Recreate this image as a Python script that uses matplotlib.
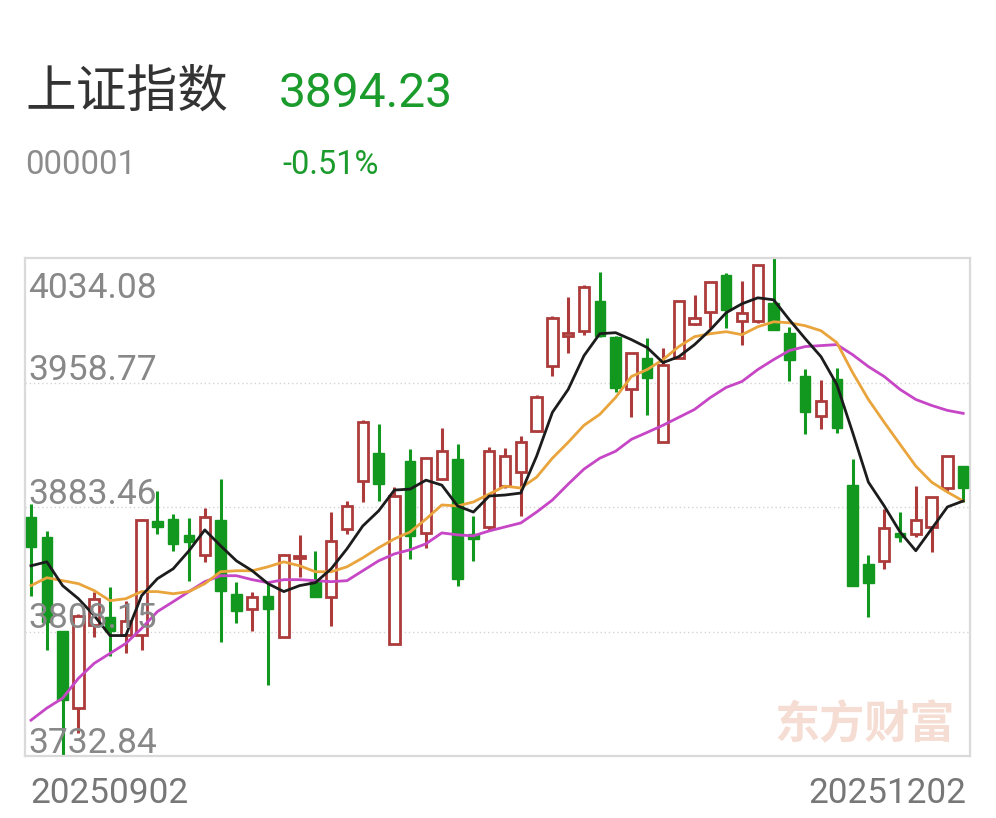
import matplotlib.pyplot as plt
from matplotlib.patches import Rectangle

plt.rcParams['font.family'] = ['Roboto', 'Noto Sans CJK SC', 'DejaVu Sans']

# header
index_name = "上证指数"
index_code = "000001"
last_price = "3894.23"
pct_change = "-0.51%"
watermark = "东方财富"

date_labels = ["20250902", "20251202"]
y_ticks = [4034.08, 3958.77, 3883.46, 3808.15, 3732.84]

# daily candles, 2025-09-02 .. 2025-12-02
opens = [3877.4, 3865.4, 3808.2, 3761.8, 3811.8, 3817.2, 3805.8, 3805.8, 3875.0, 3876.2,
         3866.6, 3854.5, 3875.6, 3831.0, 3822.0, 3829.8, 3805.1, 3852.7, 3838.9, 3829.2,
         3870.2, 3899.1, 3916.0, 3800.3, 3911.2, 3867.8, 3900.3, 3912.4, 3867.0, 3871.4,
         3896.1, 3904.5, 3929.3, 3969.0, 3987.1, 3990.1, 4008.2, 3986.5, 3954.6, 3973.8,
         3922.6, 3973.8, 3994.3, 4001.5, 4023.8, 3996.1, 3996.1, 4007.0, 3988.9, 3962.4,
         3938.3, 3960.6, 3896.7, 3849.1, 3850.9, 3867.8, 3867.2, 3871.4, 3894.9, 3908.1]
highs = [3885.3, 3869.0, 3808.2, 3818.5, 3832.2, 3835.3, 3826.8, 3876.0, 3893.1, 3879.2,
         3876.8, 3882.9, 3900.3, 3838.3, 3832.2, 3838.3, 3855.1, 3866.6, 3856.9, 3880.4,
         3887.1, 3935.9, 3933.5, 3895.5, 3918.4, 3913.0, 3931.1, 3921.4, 3878.0, 3919.6,
         3919.0, 3926.2, 3951.0, 3999.1, 4010.6, 4017.8, 4025.6, 3987.1, 3976.8, 3985.9,
         3979.9, 4008.2, 4011.8, 4019.6, 4025.0, 4020.2, 4029.9, 4034.7, 3992.5, 3967.2,
         3960.0, 3967.8, 3912.4, 3854.5, 3882.3, 3880.4, 3896.1, 3889.4, 3914.2, 3908.1]
lows = [3829.8, 3796.7, 3733.1, 3746.7, 3805.1, 3793.1, 3794.9, 3796.7, 3867.2, 3856.9,
        3838.9, 3850.3, 3802.1, 3813.0, 3808.2, 3775.6, 3805.1, 3841.3, 3829.2, 3811.2,
        3867.2, 3886.5, 3887.1, 3800.3, 3852.1, 3858.8, 3899.7, 3835.9, 3850.9, 3869.0,
        3894.9, 3878.0, 3928.7, 3963.0, 3976.8, 3987.7, 3986.5, 3952.8, 3937.7, 3938.9,
        3922.6, 3973.8, 3993.7, 3991.9, 3991.9, 3981.7, 3994.9, 3990.7, 3959.4, 3927.4,
        3930.5, 3928.0, 3835.9, 3817.2, 3846.1, 3862.4, 3865.4, 3856.3, 3892.5, 3886.5]
closes = [3859.4, 3813.6, 3766.6, 3817.8, 3828.0, 3808.2, 3814.2, 3875.6, 3871.4, 3861.2,
          3862.4, 3877.4, 3832.9, 3820.8, 3829.2, 3822.0, 3854.5, 3853.9, 3829.2, 3863.0,
          3884.0, 3934.7, 3897.3, 3890.1, 3866.0, 3913.0, 3917.2, 3840.1, 3863.9, 3917.2,
          3914.2, 3922.6, 3950.3, 3997.9, 3988.9, 4016.6, 3987.1, 3955.2, 3976.8, 3961.2,
          3969.6, 4008.2, 3997.9, 4019.6, 4002.8, 4000.9, 4029.9, 3990.7, 3972.6, 3940.7,
          3947.3, 3931.1, 3835.9, 3837.7, 3870.8, 3865.4, 3875.6, 3889.4, 3914.2, 3894.9]

# moving average lines as drawn on the chart
ma5 = [3847.9, 3850.3, 3835.9, 3828.0, 3817.8, 3805.7, 3805.7, 3829.8, 3840.1, 3846.1,
       3857.0, 3869.6, 3860.0, 3850.9, 3844.9, 3837.1, 3832.3, 3835.9, 3837.7, 3846.1,
       3858.2, 3872.0, 3881.1, 3893.7, 3894.3, 3899.7, 3896.7, 3884.1, 3880.4, 3890.1,
       3890.7, 3891.9, 3914.2, 3940.7, 3954.6, 3975.0, 3988.3, 3988.9, 3984.7, 3979.9,
       3970.8, 3974.4, 3981.7, 3990.7, 4001.0, 4006.4, 4010.0, 4008.8, 3996.7, 3985.3,
       3974.4, 3957.6, 3928.6, 3898.5, 3884.1, 3868.4, 3857.0, 3870.2, 3883.5, 3887.1]
ma10 = [3835.9, 3840.7, 3838.9, 3837.1, 3832.9, 3826.8, 3828.0, 3832.3, 3832.3, 3831.0,
        3832.3, 3837.1, 3844.3, 3844.9, 3844.9, 3847.3, 3850.3, 3847.9, 3844.3, 3844.3,
        3847.3, 3852.7, 3858.8, 3864.2, 3868.4, 3876.2, 3884.7, 3884.1, 3886.5, 3891.3,
        3896.1, 3894.9, 3901.5, 3913.0, 3922.6, 3932.9, 3939.5, 3949.7, 3962.4, 3966.6,
        3972.6, 3980.5, 3986.5, 3988.3, 3989.5, 3987.7, 3992.5, 3995.5, 3994.9, 3993.1,
        3990.1, 3982.9, 3964.8, 3948.5, 3934.7, 3921.4, 3908.2, 3898.5, 3892.5, 3887.1]
ma20 = [3754.5, 3761.8, 3767.8, 3779.8, 3788.9, 3794.9, 3800.9, 3810.0, 3820.2, 3826.2,
        3832.3, 3838.3, 3841.9, 3841.9, 3839.5, 3837.7, 3839.5, 3839.5, 3838.9, 3838.3,
        3838.9, 3844.9, 3850.9, 3855.1, 3857.6, 3861.2, 3867.8, 3866.6, 3866.0, 3869.0,
        3871.4, 3873.8, 3880.4, 3887.7, 3897.3, 3906.4, 3913.0, 3917.2, 3924.4, 3928.6,
        3932.9, 3937.7, 3942.5, 3949.7, 3955.8, 3959.4, 3966.6, 3972.6, 3978.1, 3980.5,
        3981.1, 3981.7, 3975.6, 3968.4, 3962.4, 3954.6, 3948.5, 3944.9, 3941.9, 3940.1]

UP = '#ad3b3b'
DOWN = '#12981f'
W, H = 996, 818

fig = plt.figure(figsize=(W / 100, H / 100), dpi=100)
fig.patch.set_facecolor('white')
ax = fig.add_axes([25 / W, 1 - 756 / H, 945 / W, 498 / H])

step = 15.8  # px between candles
ax.set_xlim(-6 / step, -6 / step + 945 / step)
ax.set_ylim(y_ticks[-1], y_ticks[0])

body_w = 0.66
for i, (o, h, l, c) in enumerate(zip(opens, highs, lows, closes)):
    up = c >= o
    col = UP if up else DOWN
    ax.vlines(i, l, h, color=col, lw=2.2, zorder=2)
    lo = min(o, c)
    hgt = max(abs(c - o), 0.8)
    if up:
        ax.add_patch(Rectangle((i - body_w / 2, lo), body_w, hgt, facecolor='white',
                               edgecolor=col, lw=2.0, zorder=3))
    else:
        ax.add_patch(Rectangle((i - body_w / 2, lo), body_w, hgt, facecolor=col,
                               edgecolor=col, lw=1.0, zorder=3))

x = list(range(len(closes)))
ax.plot(x, ma20, color='#c646c6', lw=2.0, zorder=4)
ax.plot(x, ma10, color='#e9a43c', lw=2.0, zorder=5)
ax.plot(x, ma5, color='#1c1c1c', lw=2.0, zorder=6)

# dotted grid
for v in y_ticks[1:-1]:
    ax.axhline(v, color='#d4d4d4', lw=1.0, ls=(0, (1, 2)), zorder=1)

for s in ax.spines.values():
    s.set_color('#dadada')
    s.set_linewidth(1.6)
ax.set_xticks([])
ax.set_yticks([])

# value labels inside the plot
for k, v in enumerate(y_ticks):
    off = -40 if k == 0 else 3
    ax.annotate(f"{v:.2f}", xy=(0, v), xycoords=('axes fraction', 'data'),
                xytext=(3, off), textcoords='offset pixels', fontsize=25.5,
                color='#888888', va='baseline', ha='left', zorder=7)

ax.text(0.984, 0.036, watermark, transform=ax.transAxes, ha='right', va='baseline',
        fontsize=32.5, fontweight='heavy', color='#f6ddd3', zorder=0.5,
        family=['Noto Sans CJK SC', 'DejaVu Sans'])

# header texts
fig.text(25 / W, 1 - 107 / H, index_name, fontsize=36.5, color='#333333',
         va='baseline', family=['Noto Sans CJK SC', 'DejaVu Sans'])
fig.text(279 / W, 1 - 107 / H, last_price, fontsize=34.5, color='#1a9b2b', va='baseline')
fig.text(25 / W, 1 - 174 / H, index_code, fontsize=23.7, color='#8c8c8c', va='baseline')
fig.text(282 / W, 1 - 174 / H, pct_change, fontsize=23.5, color='#1a9b2b', va='baseline')

# date labels under the chart
fig.text(30 / W, 1 - 803 / H, date_labels[0], fontsize=25.3, color='#777777',
         va='baseline', ha='left')
fig.text(966 / W, 1 - 803 / H, date_labels[1], fontsize=25.3, color='#777777',
         va='baseline', ha='right')

fig.savefig('out.png', dpi=100, facecolor='white')
